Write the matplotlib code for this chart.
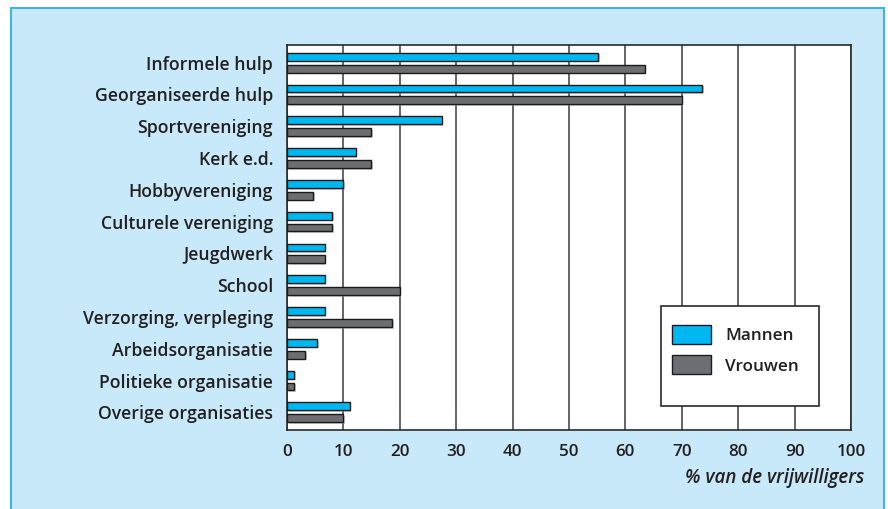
import matplotlib
matplotlib.use("Agg")
import matplotlib.pyplot as plt
import matplotlib.patheffects as pe
from matplotlib.patches import Rectangle, Patch
import numpy as np

categories = ["Informele hulp", "Georganiseerde hulp", "Sportvereniging", "Kerk e.d.",
              "Hobbyvereniging", "Culturele vereniging", "Jeugdwerk", "School",
              "Verzorging, verpleging", "Arbeidsorganisatie", "Politieke organisatie",
              "Overige organisaties"]
mannen = [55.2, 73.6, 27.4, 12.2, 10.0, 8.0, 6.7, 6.7, 6.7, 5.3, 1.3, 11.1]
vrouwen = [63.4, 70.0, 14.9, 14.9, 4.6, 8.0, 6.7, 20.0, 18.7, 3.2, 1.3, 10.0]
xticks = [0, 10, 20, 30, 40, 50, 60, 70, 80, 90, 100]
series_names = ["Mannen", "Vrouwen"]

TXT = "#231F20"
C_M = "#00B8F1"
C_V = "#6D6E71"
FONT = "Open Sans"
W = "semibold"
FS_CAT = 12.7
FS_TICK = 12.3
FS_LEG = 12.3
FS_XL = 13.5

plt.rcParams["font.family"] = [FONT, "DejaVu Sans"]

fig = plt.figure(figsize=(8.88, 5.09), dpi=100)
fig.patch.set_facecolor("white")
# light blue panel
panel = Rectangle((11 / 888, -0.01), (884 - 11) / 888, 1 - 8 / 509 + 0.01,
                  transform=fig.transFigure, facecolor="#C8E9FA",
                  edgecolor="#3DB5E8", linewidth=1.5, zorder=-10)
fig.patches.append(panel)

ax = fig.add_axes([287 / 888, 1 - 430 / 509, (851 - 287) / 888, (430 - 45) / 509])
ax.set_facecolor("white")

y = np.arange(len(categories))
h = 0.25
off = 0.186
shadow = [pe.SimplePatchShadow(offset=(1.2, -1.2), shadow_rgbFace="#9a9a9a", alpha=0.5), pe.Normal()]
b1 = ax.barh(y - off, mannen, height=h, color=C_M, edgecolor="#1a1a1a", linewidth=1.0, zorder=3)
b2 = ax.barh(y + off, vrouwen, height=h, color=C_V, edgecolor="#1a1a1a", linewidth=1.0, zorder=3)
for b in list(b1) + list(b2):
    b.set_path_effects(shadow)

ax.set_xlim(0, 100)
ax.set_ylim(len(categories) - 1 + 0.555, -0.555)
ax.set_xticks(xticks)
ax.set_xticklabels([str(t) for t in xticks])
ax.set_yticks(y)
ax.set_yticklabels(categories)
ax.tick_params(axis="both", length=0, colors=TXT)
ax.tick_params(axis="x", pad=10, labelsize=FS_TICK)
ax.tick_params(axis="y", pad=10, labelsize=FS_CAT)
for lab in ax.get_yticklabels() + ax.get_xticklabels():
    lab.set_fontweight(W)

ax.grid(axis="x", color="#3a3a3a", linewidth=1.1, zorder=1)
ax.set_axisbelow(True)
for s in ax.spines.values():
    s.set_color("#2a2a2a")
    s.set_linewidth(1.2)

fig.text(864 / 888, 1 - 478 / 509, "% van de vrijwilligers", ha="right", va="center",
         fontsize=FS_XL, style="italic", color=TXT, fontweight=W)

# legend frame
lx0 = (661 - 287) / 564
lx1 = (819 - 287) / 564
ly0 = (430 - 406) / 385
ly1 = (430 - 306) / 385
frame = Rectangle((lx0, ly0), lx1 - lx0, ly1 - ly0, transform=ax.transAxes,
                  facecolor="white", edgecolor="#2a2a2a", linewidth=1.2, zorder=5)
ax.add_patch(frame)
handles = [Patch(facecolor=C_M, edgecolor="#1a1a2a", linewidth=1.0),
           Patch(facecolor=C_V, edgecolor="#1a1a2a", linewidth=1.0)]
fpx = FS_LEG * 100 / 72
leg = ax.legend(handles, series_names, loc="upper left",
                bbox_to_anchor=((672 - 287) / 564, (430 - 327) / 385 + 0.005),
                frameon=False, fontsize=FS_LEG, handlelength=39 / fpx, handleheight=23 / fpx,
                handletextpad=14 / fpx, labelspacing=11 / fpx, borderpad=0, borderaxespad=0)
leg.set_zorder(6)
for t in leg.get_texts():
    t.set_color(TXT)
    t.set_fontweight(W)

fig.savefig("out.png", dpi=100, facecolor="white")
